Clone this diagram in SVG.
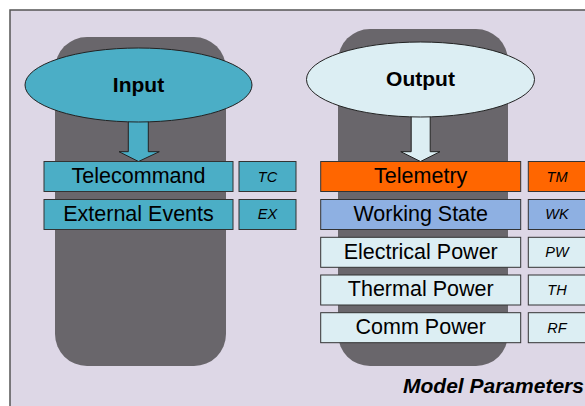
<svg xmlns="http://www.w3.org/2000/svg" width="585" height="406" viewBox="0 0 585 406">
  <style>
    .panel { fill: #DDD7E6; stroke: #555555; stroke-width: 1.5; }
    .column { fill: #69666B; }
    .box { stroke: #333333; stroke-width: 1; }
    .teal { fill: #4BAEC6; }
    .pale { fill: #DCEEF3; }
    .orange { fill: #FF6600; }
    .blue { fill: #8EB0E2; }
    .label { font-family: "Liberation Sans", Arial, sans-serif; font-size: 21.5px; fill: #000000; text-anchor: middle; }
    .abbr { font-family: "Liberation Sans", Arial, sans-serif; font-size: 14.5px; font-style: italic; fill: #000000; text-anchor: middle; }
    .title { font-family: "Liberation Sans", Arial, sans-serif; font-size: 21px; font-weight: bold; fill: #000000; text-anchor: middle; }
    .caption { font-family: "Liberation Sans", Arial, sans-serif; font-size: 21px; font-weight: bold; font-style: italic; fill: #000000; }
    .blob { stroke: #222222; stroke-width: 1; }
    .arrow { stroke: #222222; stroke-width: 1; stroke-linejoin: miter; }
  </style>

  <rect x="0" y="0" width="585" height="406" fill="#FFFFFF"/>
  <rect class="panel" x="10" y="10" width="600" height="420"/>

  <!-- background columns -->
  <rect class="column" x="55" y="37" width="171" height="329" rx="32" ry="32"/>
  <rect class="column" x="338" y="29" width="170" height="337" rx="32" ry="32"/>

  <!-- input side -->
  <g id="input-arrow">
    <path class="arrow teal" d="M128.3,110 L148.3,110 L148.3,151.7 L159.3,151.7 L138.5,161.5 L119,151.7 L128.3,151.7 Z"/>
  </g>
  <g id="input">
    <ellipse class="blob teal" cx="138.5" cy="85" rx="113.5" ry="37"/>
    <text class="title" x="138.5" y="92">Input</text>
  </g>

  <!-- output side -->
  <g id="output-arrow">
    <path class="arrow pale" d="M411.2,105 L430.2,105 L430.2,151.7 L440,151.7 L420.5,161.5 L400.8,151.7 L411.2,151.7 Z"/>
  </g>
  <g id="output">
    <ellipse class="blob pale" cx="420.5" cy="79.5" rx="114" ry="37.5"/>
    <text class="title" x="420.5" y="86">Output</text>
  </g>

  <!-- input parameters -->
  <g id="telecommand">
    <rect class="box teal" x="44" y="161.5" width="189" height="30"/>
    <text class="label" x="138.5" y="183">Telecommand</text>
  </g>
  <g id="tc">
    <rect class="box teal" x="239" y="161.5" width="57" height="30"/>
    <text class="abbr" x="267.5" y="181.5">TC</text>
  </g>
  <g id="external-events">
    <rect class="box teal" x="44" y="199.5" width="189" height="30"/>
    <text class="label" x="138.5" y="221.3">External Events</text>
  </g>
  <g id="ex">
    <rect class="box teal" x="239" y="199.5" width="57" height="30"/>
    <text class="abbr" x="267.5" y="219.3">EX</text>
  </g>

  <!-- output parameters -->
  <g id="telemetry">
    <rect class="box orange" x="320.7" y="161.5" width="200" height="30"/>
    <text class="label" x="420.7" y="183">Telemetry</text>
  </g>
  <g id="tm">
    <rect class="box orange" x="528.3" y="161.5" width="60" height="30"/>
    <text class="abbr" x="557" y="181.5">TM</text>
  </g>
  <g id="working-state">
    <rect class="box blue" x="320.7" y="199.5" width="200" height="30"/>
    <text class="label" x="420.7" y="221.3">Working State</text>
  </g>
  <g id="wk">
    <rect class="box blue" x="528.3" y="199.5" width="60" height="30"/>
    <text class="abbr" x="557" y="219.3">WK</text>
  </g>
  <g id="electrical-power">
    <rect class="box pale" x="320.7" y="237.3" width="200" height="30"/>
    <text class="label" x="420.7" y="258.6">Electrical Power</text>
  </g>
  <g id="pw">
    <rect class="box pale" x="528.3" y="237.3" width="60" height="30"/>
    <text class="abbr" x="557" y="257.1">PW</text>
  </g>
  <g id="thermal-power">
    <rect class="box pale" x="320.7" y="275" width="200" height="30"/>
    <text class="label" x="420.7" y="296.3">Thermal Power</text>
  </g>
  <g id="th">
    <rect class="box pale" x="528.3" y="275" width="60" height="30"/>
    <text class="abbr" x="557" y="294.8">TH</text>
  </g>
  <g id="comm-power">
    <rect class="box pale" x="320.7" y="312.7" width="200" height="30"/>
    <text class="label" x="420.7" y="334">Comm Power</text>
  </g>
  <g id="rf">
    <rect class="box pale" x="528.3" y="312.7" width="60" height="30"/>
    <text class="abbr" x="557" y="332.5">RF</text>
  </g>

  <g id="connectors"></g>

  <text class="caption" x="403" y="393">Model Parameters</text>
</svg>
